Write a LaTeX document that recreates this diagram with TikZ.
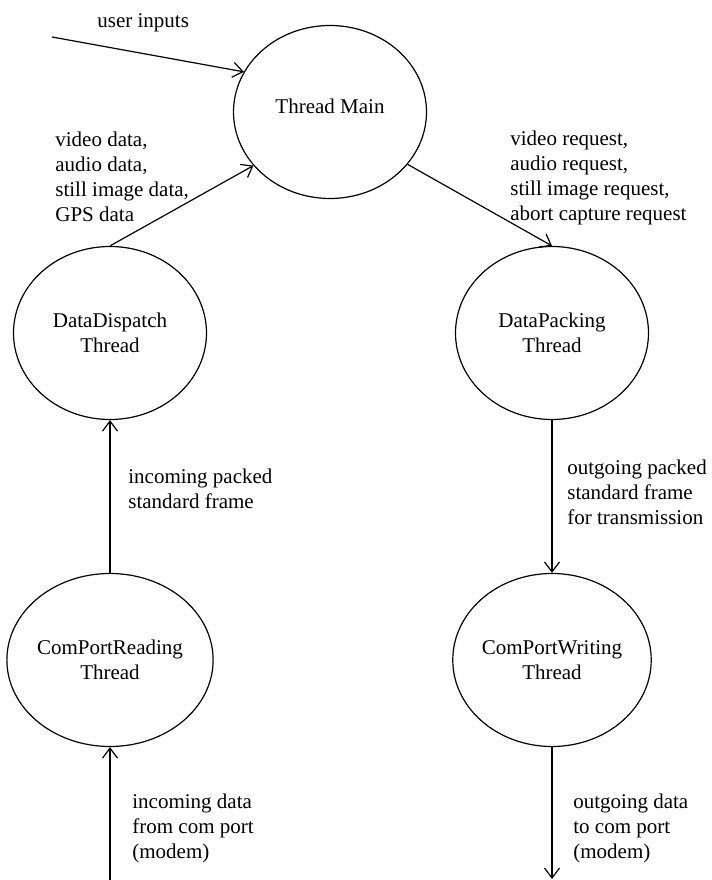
\documentclass[tikz,border=0pt]{standalone}
\usepackage{fontspec}
\setmainfont{Liberation Serif}
\usetikzlibrary{shapes.geometric, arrows.meta}
\tikzstyle{thread} = [draw, ellipse, line width=0.6pt, minimum width=96.5pt, minimum height=86.5pt, inner sep=0pt, align=center]
\tikzstyle{msg} = [draw=none, inner sep=0pt, anchor=north west, align=left]
\tikzstyle{flow} = [->, line width=0.6pt]

\begin{document}
\begin{tikzpicture}[x=0.5pt, y=0.5pt, font=\fontsize{10.5pt}{12.5pt}\selectfont, >={Straight Barb[length=5pt, width=7.5pt]}]
                \useasboundingbox (0,0) rectangle (712,880);

                % the five threads
                \node[thread, text depth=5.5pt] (main) at (330,768) {Thread Main};
                \node[thread] (dispatch) at (110,547) {DataDispatch\\Thread};
                \node[thread] (packing) at (552,547) {DataPacking\\Thread};
                \node[thread] (reading) at (110,220) {ComPortReading\\Thread};
                \node[thread] (writing) at (552,220) {ComPortWriting\\Thread};

                % loose ends outside the threads
                \coordinate (user) at (52,843);
                \coordinate (modemin) at (110,0);
                \coordinate (modemout) at (552,1);

                \draw[flow] (user) -- (main.155);
                \draw[flow] (dispatch.north) -- (main.215);
                \draw[flow] (main.-34) -- (packing.north);
                \draw[flow] (reading.north) -- (dispatch.south);
                \draw[flow] (packing.south) -- (writing.north);
                \draw[flow] (modemin) -- (reading.south);
                \draw[flow] (writing.south) -- (modemout);

                % messages
                \node[msg] (userlbl) at (97,867) {user inputs};
                \node[msg] (datalbl) at (55,748) {video data,\\audio data,\\still image data,\\GPS data};
                \node[msg] (reqlbl) at (510,749) {video request,\\audio request,\\still image request,\\abort capture request};
                \node[msg] (inframe) at (128,411) {incoming packed\\standard frame};
                \node[msg] (outframe) at (567,420) {outgoing packed\\standard frame\\for transmission};
                \node[msg] (indata) at (132,86) {incoming data\\from com port\\(modem)};
                \node[msg] (outdata) at (573,86) {outgoing data\\to com port\\(modem)};
            \end{tikzpicture}
\end{document}
